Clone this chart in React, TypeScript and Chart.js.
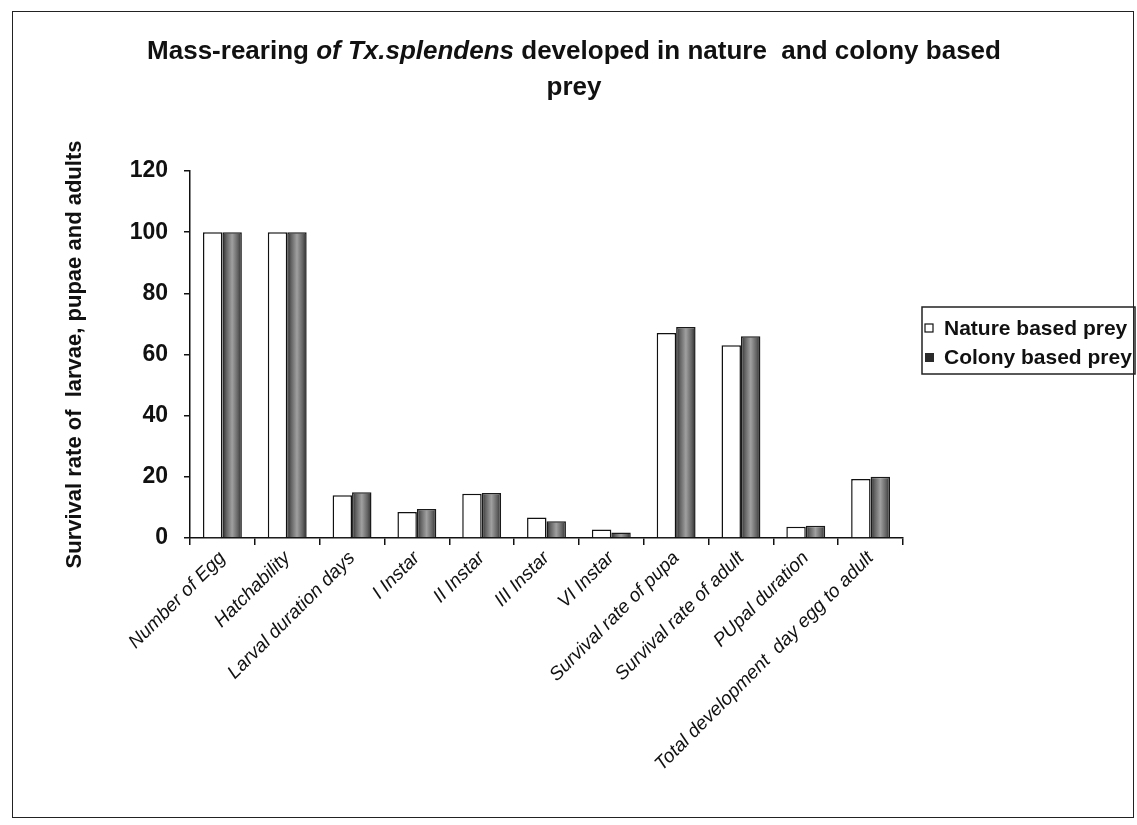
import React, { useEffect, useRef } from 'react';
import { Chart, registerables } from 'chart.js';

Chart.register(...registerables);

const categories = [
  'Number of Egg',
  'Hatchability',
  'Larval duration days',
  'I Instar',
  'II Instar',
  'III Instar',
  'VI Instar',
  'Survival rate of pupa',
  'Survival rate of adult',
  'PUpal duration',
  'Total development  day egg to adult',
];
const natureValues = [100, 100, 14, 8.5, 14.5, 6.7, 2.8, 67, 63, 3.7, 19.3];
const colonyValues = [100, 100, 15, 9.5, 14.7, 5.5, 1.8, 69, 66, 4, 20];
const seriesNames = ['Nature based prey', 'Colony based prey'];
const yTickValues = [0, 20, 40, 60, 80, 100, 120];
const titleLine1 = [
  { text: 'Mass-rearing ', italic: false },
  { text: 'of Tx.splendens', italic: true },
  { text: ' developed in nature  and colony based', italic: false },
];
const titleLine2 = 'prey';
const yAxisTitle = 'Survival rate of  larvae, pupae and adults';

const FONT = '"Liberation Sans", Arial, sans-serif';
const CAT_PCT = 0.6;

const titlePlugin = {
  id: 'mixedTitle',
  afterDraw(chart: any) {
    const ctx = chart.ctx;
    ctx.save();
    ctx.fillStyle = '#111';
    ctx.textBaseline = 'middle';
    ctx.textAlign = 'left';
    const size = 26;
    const fontFor = (it: boolean) => `${it ? 'italic ' : ''}bold ${size}px ${FONT}`;
    let total = 0;
    for (const p of titleLine1) {
      ctx.font = fontFor(p.italic);
      total += ctx.measureText(p.text).width;
    }
    const cx = 574;
    let x = cx - total / 2;
    for (const p of titleLine1) {
      ctx.font = fontFor(p.italic);
      ctx.fillText(p.text, x, 52);
      x += ctx.measureText(p.text).width;
    }
    ctx.font = fontFor(false);
    ctx.textAlign = 'center';
    ctx.fillText(titleLine2, cx, 88);
    ctx.restore();
  },
};

const legendPlugin = {
  id: 'boxLegend',
  afterDraw(chart: any) {
    const ctx = chart.ctx;
    ctx.save();
    const left = 922, top = 307, right = 1135, bottom = 374;
    ctx.strokeStyle = '#222';
    ctx.lineWidth = 1.5;
    ctx.strokeRect(left, top, right - left, bottom - top);
    ctx.font = `bold 21px ${FONT}`;
    ctx.textBaseline = 'middle';
    ctx.textAlign = 'left';
    const rows = [328, 357];
    seriesNames.forEach((name, i) => {
      const y = rows[i];
      if (i === 0) {
        ctx.fillStyle = '#fff';
        ctx.fillRect(925, y - 4, 8, 8);
        ctx.strokeStyle = '#111';
        ctx.lineWidth = 1.2;
        ctx.strokeRect(925, y - 4, 8, 8);
      } else {
        ctx.fillStyle = '#2a2a2a';
        ctx.fillRect(925, y - 4, 9, 9);
      }
      ctx.fillStyle = '#111';
      ctx.fillText(name, 944, y + 1);
    });
    ctx.restore();
  },
};

export default function App() {
  const ref = useRef<HTMLCanvasElement>(null);
  useEffect(() => {
    if (!ref.current) return;
    const chart = new Chart(ref.current, {
      type: 'bar',
      data: {
        labels: categories,
        datasets: [
          {
            label: seriesNames[0],
            data: natureValues,
            backgroundColor: '#ffffff',
            borderColor: '#111',
            borderWidth: 1.5,
            categoryPercentage: CAT_PCT,
            barPercentage: 1,
          },
          {
            label: seriesNames[1],
            data: colonyValues,
            backgroundColor: (c: any) => {
              const ch = c.chart;
              const xs = ch.scales && ch.scales.x;
              if (!xs || c.dataIndex === undefined || !xs.width) return '#777';
              const center = xs.getPixelForValue(c.dataIndex);
              const bw = (xs.width / categories.length) * CAT_PCT / 2;
              const g = ch.ctx.createLinearGradient(center, 0, center + bw, 0);
              g.addColorStop(0, '#2a2a2a');
              g.addColorStop(0.2, '#626262');
              g.addColorStop(0.5, '#a0a0a0');
              g.addColorStop(0.8, '#626262');
              g.addColorStop(1, '#2a2a2a');
              return g;
            },
            borderColor: '#1a1a1a',
            borderWidth: 1.5,
            categoryPercentage: CAT_PCT,
            barPercentage: 1,
          },
        ],
      },
      options: {
        responsive: true,
        maintainAspectRatio: false,
        animation: false,
        layout: { padding: { left: 12, top: 171, right: 234, bottom: 0 } },
        plugins: {
          legend: { display: false },
          title: { display: false },
          tooltip: { enabled: false },
        },
        scales: {
          x: {
            offset: true,
            grid: {
              offset: true,
              drawOnChartArea: false,
              drawTicks: true,
              tickLength: 7,
              color: '#111',
              lineWidth: 1.5,
            },
            border: { color: '#111', width: 1.5 },
            ticks: {
              autoSkip: false,
              minRotation: 45,
              maxRotation: 45,
              padding: 2,
              color: '#111',
              font: { family: FONT, size: 19, style: 'italic' },
            },
            afterFit: (s: any) => {
              s.height = 825 - 538;
            },
          },
          y: {
            min: 0,
            max: 120,
            afterBuildTicks: (s: any) => {
              s.ticks = yTickValues.map((v) => ({ value: v }));
            },
            grid: {
              drawOnChartArea: false,
              drawTicks: true,
              tickLength: 6,
              color: '#111',
              lineWidth: 1.5,
            },
            border: { color: '#111', width: 1.5 },
            ticks: {
              padding: 16,
              color: '#111',
              font: { family: FONT, size: 23, weight: 'bold' },
            },
            title: {
              display: true,
              text: yAxisTitle,
              color: '#111',
              font: { family: FONT, size: 22, weight: 'bold' },
              padding: { top: 50, bottom: 0 },
            },
            afterFit: (s: any) => {
              s.width = 190 - 12;
            },
          },
        },
      },
      plugins: [titlePlugin, legendPlugin],
    });
    return () => chart.destroy();
  }, []);

  return (
    <div style={{ position: 'absolute', left: 0, top: 0, width: 1137, height: 825, background: '#fff' }}>
      <div
        style={{
          position: 'absolute',
          left: 12,
          top: 11,
          width: 1122,
          height: 807,
          border: '1.5px solid #222',
          boxSizing: 'border-box',
          pointerEvents: 'none',
        }}
      />
      <canvas ref={ref} style={{ position: 'absolute', left: 0, top: 0 }} />
    </div>
  );
}
